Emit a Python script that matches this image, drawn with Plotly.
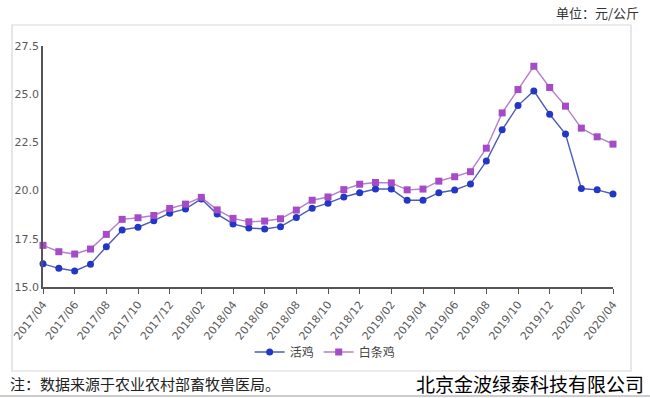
import plotly.graph_objects as go

months = []
for y in range(2017, 2021):
    for m in range(1, 13):
        if (y == 2017 and m < 4) or (y == 2020 and m > 4):
            continue
        months.append(f"{y}/{m:02d}")

live_chicken = [16.2, 15.97, 15.83, 16.18, 17.09, 17.96, 18.1, 18.44, 18.83, 19.05,
                19.57, 18.78, 18.27, 18.06, 18.01, 18.13, 18.6, 19.09, 19.35, 19.67,
                19.89, 20.08, 20.08, 19.5, 19.5, 19.89, 20.03, 20.34, 21.53, 23.15,
                24.41, 25.17, 23.96, 22.93, 20.11, 20.04, 19.82]
white_chicken = [17.16, 16.83, 16.71, 16.97, 17.73, 18.51, 18.59, 18.71, 19.07, 19.3,
                 19.65, 19.0, 18.56, 18.38, 18.42, 18.54, 18.99, 19.5, 19.67, 20.05,
                 20.33, 20.42, 20.4, 20.04, 20.08, 20.49, 20.72, 20.98, 22.2, 24.03,
                 25.24, 26.45, 25.35, 24.38, 23.24, 22.79, 22.41]

y_ticks = [15.0, 17.5, 20.0, 22.5, 25.0, 27.5]
x_idx = list(range(len(months)))
tick_idx = x_idx[::2]
tick_labels = [months[i] for i in tick_idx]

W, H = 650, 398
L, R, T, B = 43, 37, 46, 111
PW, PH = W - L - R, H - T - B

def px(x):
    return (x - L) / PW

def py(y):
    return (H - B - y) / PH

fig = go.Figure()
fig.add_trace(go.Scatter(
    x=x_idx, y=live_chicken, name="活鸡", mode="lines+markers",
    line=dict(color="#4d5cb8", width=1.4),
    marker=dict(symbol="circle", size=7, color="#2436c8"),
    cliponaxis=False,
))
fig.add_trace(go.Scatter(
    x=x_idx, y=white_chicken, name="白条鸡", mode="lines+markers",
    line=dict(color="#b47fcc", width=1.4),
    marker=dict(symbol="square", size=7, color="#a54bc8"),
    cliponaxis=False,
))

font_family = "Noto Sans CJK SC, Noto Sans, DejaVu Sans, sans-serif"

fig.update_layout(
    width=W, height=H,
    margin=dict(l=L, r=R, t=T, b=B, pad=0, autoexpand=False),
    paper_bgcolor="white", plot_bgcolor="white",
    font=dict(family=font_family, size=11, color="#555555"),
    showlegend=True,
    legend=dict(orientation="h", x=0.495, xanchor="center", y=py(352), yanchor="middle",
                font=dict(size=12, color="#444444"), bgcolor="rgba(0,0,0,0)",
                itemwidth=30),
    xaxis=dict(
        range=[0, len(months) - 1], tickmode="array", tickvals=tick_idx, ticktext=tick_labels,
        tickangle=-52, ticks="outside", ticklen=5, tickcolor="#555555",
        showline=True, linecolor="#555555", linewidth=1.5, showgrid=False, zeroline=False,
        tickfont=dict(size=11, color="#5a5a5a", family="DejaVu Sans, sans-serif"),
    ),
    yaxis=dict(
        range=[15, 27.5], tickmode="array", tickvals=y_ticks, ticktext=[f"{v:.1f}" for v in y_ticks],
        ticks="", showline=True, linecolor="#555555", linewidth=1.5, showgrid=False, zeroline=False,
        tickfont=dict(size=11, color="#5a5a5a", family="DejaVu Sans, sans-serif"),
    ),
    shapes=[
        dict(type="rect", xref="paper", yref="paper", x0=px(12), x1=px(631), y0=py(371), y1=py(25),
             line=dict(color="#d8d8d8", width=1.2), fillcolor="rgba(0,0,0,0)", layer="below"),
        dict(type="line", xref="paper", yref="paper", x0=px(0), x1=px(650), y0=py(396), y1=py(396),
             line=dict(color="#bbbbbb", width=1.5)),
    ],
    annotations=[
        dict(text="单位：元/公斤", xref="paper", yref="paper", x=px(641), y=py(12),
             xanchor="right", yanchor="middle", showarrow=False,
             font=dict(size=13, color="#333333", family=font_family)),
        dict(text="注：数据来源于农业农村部畜牧兽医局。", xref="paper", yref="paper", x=px(8), y=py(383),
             xanchor="left", yanchor="middle", showarrow=False,
             font=dict(size=15, color="#222222", family=font_family)),
        dict(text="北京金波绿泰科技有限公司", xref="paper", yref="paper", x=px(646), y=py(383),
             xanchor="right", yanchor="middle", showarrow=False,
             font=dict(size=19, color="#000000", family=font_family)),
    ],
)

fig.write_html("out.html", post_script="document.body.style.margin='0';",
               config={"displayModeBar": False})
